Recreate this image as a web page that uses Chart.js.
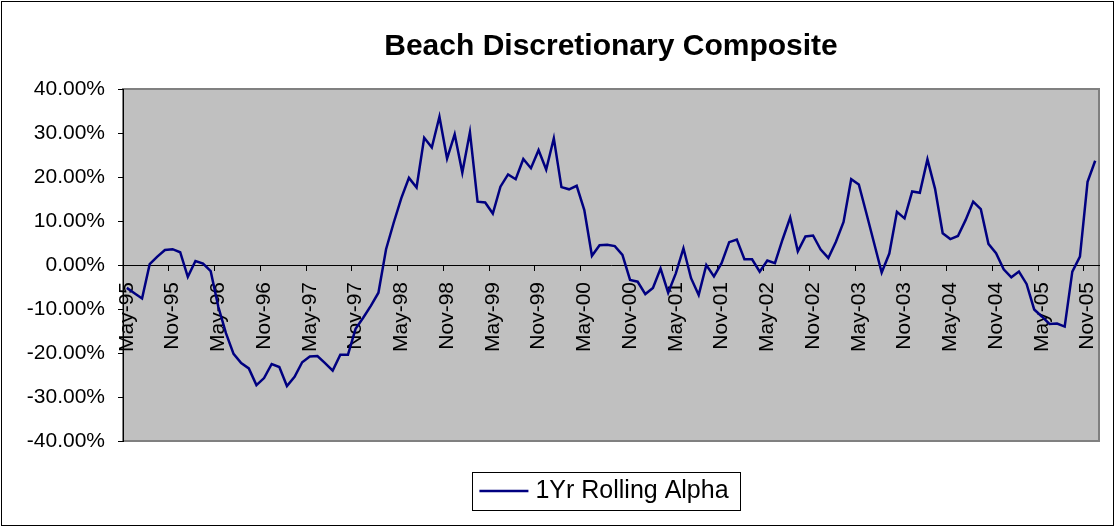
<!DOCTYPE html>
<html>
<head>
<meta charset="utf-8">
<script src="https://cdn.jsdelivr.net/npm/chart.js@4"></script>
<style>
  html, body { margin: 0; padding: 0; background: #fff; }
  canvas { display: block; }
</style>
</head>
<body>
<canvas id="alphaChart" width="1115" height="527"></canvas>
<script>
// Monthly categories, May-95 .. Dec-05
const months = [
  "May-95", "Jun-95", "Jul-95", "Aug-95", "Sep-95", "Oct-95", "Nov-95", "Dec-95",
  "Jan-96", "Feb-96", "Mar-96", "Apr-96", "May-96", "Jun-96", "Jul-96", "Aug-96", "Sep-96", "Oct-96", "Nov-96", "Dec-96",
  "Jan-97", "Feb-97", "Mar-97", "Apr-97", "May-97", "Jun-97", "Jul-97", "Aug-97", "Sep-97", "Oct-97", "Nov-97", "Dec-97",
  "Jan-98", "Feb-98", "Mar-98", "Apr-98", "May-98", "Jun-98", "Jul-98", "Aug-98", "Sep-98", "Oct-98", "Nov-98", "Dec-98",
  "Jan-99", "Feb-99", "Mar-99", "Apr-99", "May-99", "Jun-99", "Jul-99", "Aug-99", "Sep-99", "Oct-99", "Nov-99", "Dec-99",
  "Jan-00", "Feb-00", "Mar-00", "Apr-00", "May-00", "Jun-00", "Jul-00", "Aug-00", "Sep-00", "Oct-00", "Nov-00", "Dec-00",
  "Jan-01", "Feb-01", "Mar-01", "Apr-01", "May-01", "Jun-01", "Jul-01", "Aug-01", "Sep-01", "Oct-01", "Nov-01", "Dec-01",
  "Jan-02", "Feb-02", "Mar-02", "Apr-02", "May-02", "Jun-02", "Jul-02", "Aug-02", "Sep-02", "Oct-02", "Nov-02", "Dec-02",
  "Jan-03", "Feb-03", "Mar-03", "Apr-03", "May-03", "Jun-03", "Jul-03", "Aug-03", "Sep-03", "Oct-03", "Nov-03", "Dec-03",
  "Jan-04", "Feb-04", "Mar-04", "Apr-04", "May-04", "Jun-04", "Jul-04", "Aug-04", "Sep-04", "Oct-04", "Nov-04", "Dec-04",
  "Jan-05", "Feb-05", "Mar-05", "Apr-05", "May-05", "Jun-05", "Jul-05", "Aug-05", "Sep-05", "Oct-05", "Nov-05", "Dec-05"
];

// 1Yr rolling alpha, in percent
const rollingAlpha = [
  -5.2, -6.4, -7.6, 0.2, 1.9, 3.4, 3.6, 2.9,
  -2.7, 0.9, 0.3, -1.4, -9.5, -15.5, -20.2, -22.3, -23.5, -27.3, -25.7, -22.5,
  -23.2, -27.5, -25.4, -22.1, -20.8, -20.7, -22.3, -24.0, -20.4, -20.4, -14.5, -12.0,
  -9.3, -6.3, 3.6, 9.6, 15.2, 19.8, 17.6, 28.9, 26.7, 33.7, 24.2, 29.7,
  21.0, 30.2, 14.4, 14.2, 11.7, 17.8, 20.6, 19.5, 24.1, 22.0, 26.1, 21.7,
  28.8, 17.7, 17.2, 18.0, 12.5, 2.1, 4.5, 4.6, 4.3, 2.3, -3.4, -3.8,
  -6.6, -5.2, -0.8, -6.3, -1.9, 3.8, -3.0, -6.8, 0.0, -2.6, 0.4, 5.2,
  5.8, 1.3, 1.3, -1.5, 1.0, 0.4, 5.8, 10.8, 3.1, 6.5, 6.7, 3.5,
  1.6, 5.3, 9.8, 19.5, 18.3, 11.7, 5.0, -1.7, 2.6, 12.1, 10.6, 16.7,
  16.4, 24.0, 17.3, 7.2, 5.9, 6.6, 10.2, 14.4, 12.7, 4.8, 2.7, -1.0,
  -2.8, -1.5, -4.3, -10.1, -11.7, -13.4, -13.3, -14.0, -1.5, 1.9, 18.9, 23.7
];

const yMin = -40;
const yMax = 40;
const yStep = 10;
const labelEvery = 6;

const fontFamily = "Arial, 'Liberation Sans', sans-serif";
const lineColor = "#000080";
const legendFontSize = 25;
const legendBoxWidth = 29.5;

// grey plot area, outer frame and legend box
const chartFrame = {
  id: "chartFrame",
  beforeDraw(chart) {
    const { ctx, chartArea: a } = chart;
    ctx.save();
    ctx.fillStyle = "#c0c0c0";
    ctx.fillRect(a.left, a.top, a.right - a.left, a.bottom - a.top);
    ctx.strokeStyle = "#808080";
    ctx.lineWidth = 2;
    ctx.strokeRect(a.left, a.top, a.right - a.left, a.bottom - a.top);
    ctx.restore();
  },
  afterDraw(chart) {
    const ctx = chart.ctx;
    ctx.save();
    ctx.strokeStyle = "#000";
    ctx.lineWidth = 1;
    ctx.strokeRect(1.5, 1.5, chart.width - 3, chart.height - 3);
    const hit = chart.legend.legendHitBoxes[0];
    if (hit) {
      const midY = hit.top + hit.height / 2;
      const textStart = hit.left + legendBoxWidth + legendFontSize / 2;
      const lineStart = textStart - 56;
      const boxLeft = Math.round(lineStart - 7.5) + 0.5;
      const boxRight = Math.round(hit.left + hit.width + 11) + 0.5;
      ctx.strokeRect(boxLeft, Math.round(midY - 19) + 0.5, boxRight - boxLeft, 38);
      // line sample
      ctx.strokeStyle = lineColor;
      ctx.lineWidth = 2.5;
      ctx.beginPath();
      ctx.moveTo(lineStart, midY);
      ctx.lineTo(lineStart + 49, midY);
      ctx.stroke();
    }
    ctx.restore();
  }
};

document.addEventListener("DOMContentLoaded", () => {
  new Chart(document.getElementById("alphaChart"), {
    type: "line",
    data: {
      labels: months,
      datasets: [{
        label: "1Yr Rolling Alpha",
        data: rollingAlpha,
        borderColor: lineColor,
        backgroundColor: lineColor,
        borderWidth: 2.5,
        pointRadius: 0,
        tension: 0,
        fill: false
      }]
    },
    options: {
      responsive: false,
      animation: false,
      layout: { padding: { left: 0, right: 16, top: 0, bottom: 13.5 } },
      plugins: {
        title: {
          display: true,
          fullSize: false,
          text: "Beach Discretionary Composite",
          color: "#000",
          font: { family: fontFamily, size: 30, weight: "bold" },
          padding: { top: 29, bottom: 24 }
        },
        legend: {
          position: "bottom",
          fullSize: false,
          labels: {
            color: "#000",
            font: { family: fontFamily, size: legendFontSize },
            boxWidth: legendBoxWidth,
            boxHeight: 0,
            padding: 37.5,
            generateLabels: (chart) =>
              Chart.defaults.plugins.legend.labels.generateLabels(chart).map((item) => ({
                ...item,
                fillStyle: "rgba(0,0,0,0)",
                strokeStyle: "rgba(0,0,0,0)",
                lineWidth: 0
              }))
          }
        },
        tooltip: { enabled: false }
      },
      scales: {
        x: {
          position: { y: 0 },
          offset: true,
          grid: {
            offset: true,
            drawOnChartArea: false,
            tickLength: 5,
            tickColor: (c) => (c.index % labelEvery === 0 ? "#000" : "rgba(0,0,0,0)")
          },
          border: { color: "#000", width: 1 },
          ticks: {
            autoSkip: false,
            maxRotation: 90,
            minRotation: 90,
            padding: 12,
            color: "#000",
            font: { family: fontFamily, size: 21 },
            callback: (v, i) => (i % labelEvery === 0 ? months[i] : "")
          },
          afterFit: (scale) => {
            scale.paddingLeft = 0;
            scale.paddingRight = 0;
          }
        },
        y: {
          min: yMin,
          max: yMax,
          grid: { drawOnChartArea: false, tickLength: 5, tickColor: "#000" },
          border: { color: "#000", width: 1 },
          ticks: {
            stepSize: yStep,
            padding: 13,
            color: "#000",
            font: { family: fontFamily, size: 21 },
            callback: (v) => v.toFixed(2) + "%"
          },
          afterFit: (scale) => { scale.width = 123; }
        }
      }
    },
    plugins: [chartFrame]
  });
});
</script>
</body>
</html>
